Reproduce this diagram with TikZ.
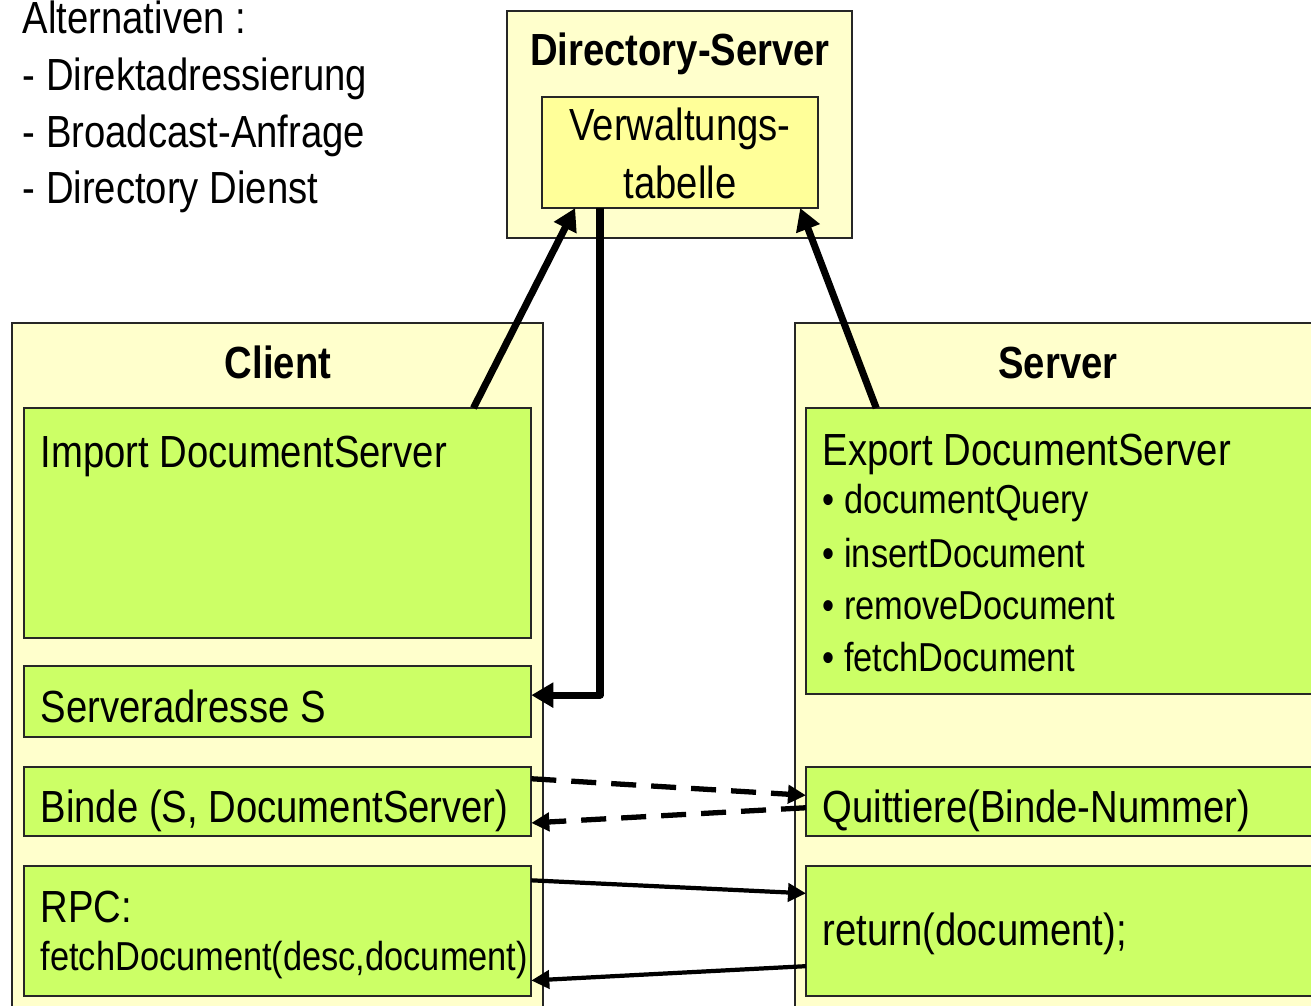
\documentclass[tikz,border=0pt]{standalone}
\usepackage{fontspec}
\setmainfont[FakeStretch=0.85]{Liberation Sans}
\usetikzlibrary{arrows.meta,calc,positioning}
\definecolor{paleyellow}{HTML}{FFFFCC}
\definecolor{tableyellow}{HTML}{FFFF99}
\definecolor{partgreen}{HTML}{CCFF66}
\tikzset{
  frame/.style={draw=black!85, line width=0.6pt, fill=paleyellow, anchor=north west, inner sep=0pt, outer sep=0pt},
  part/.style={frame, fill=partgreen},
  txt/.style={anchor=base west, inner sep=0pt, font=\fontsize{12.8}{15}\selectfont},
  small/.style={txt, font=\fontsize{11.5}{14}\selectfont},
  title/.style={anchor=base, inner sep=0pt, font=\fontsize{12.8}{15}\selectfont\bfseries},
  bigarrow/.style={line width=2pt, -{Triangle[length=2.2mm,width=2.4mm]}},
  msg/.style={line width=1.2pt, -{Triangle[length=1.8mm,width=1.8mm]}},
}
\begin{document}
\begin{tikzpicture}[x=0.01cm,y=-0.01cm]
  \clip (0,0) rectangle (1311,1005);
  % alternatives
  \node[txt] (alt)  at (22,33)  {Alternativen :};
  \node[txt] (alt1) at (22,90)  {- Direktadressierung};
  \node[txt] (alt2) at (22,147) {- Broadcast-Anfrage};
  \node[txt] (alt3) at (22,203) {- Directory Dienst};
  % directory server
  \node[frame, minimum width=3.45cm, minimum height=2.27cm] (dir) at (507,11) {};
  \node[title] (dirtitle) at (680,65) {Directory-Server};
  \node[frame, fill=tableyellow, minimum width=2.76cm, minimum height=1.11cm] (tab) at (542,97) {};
  \node[txt, anchor=base] (tab1) at (680,140) {Verwaltungs-};
  \node[txt, anchor=base] (tab2) at (680,198) {tabelle};
  % client
  \node[frame, minimum width=5.31cm, minimum height=7cm] (client) at (12,323) {};
  \node[title] (clienttitle) at (278,378) {Client};
  \node[part, minimum width=5.07cm, minimum height=2.30cm] (import) at (24,408) {};
  \node[txt] (importtxt) at (40,467) {Import DocumentServer};
  \node[part, minimum width=5.07cm, minimum height=0.71cm] (addr) at (24,666) {};
  \node[txt] (addrtxt) at (40,722) {Serveradresse S};
  \node[part, minimum width=5.07cm, minimum height=0.69cm] (bind) at (24,767) {};
  \node[txt] (bindtxt) at (40,822) {Binde (S, DocumentServer)};
  \node[part, minimum width=5.07cm, minimum height=1.30cm] (rpc) at (24,866) {};
  \node[txt] (rpctxt) at (40,922) {RPC:};
  \node[small] (fetchtxt) at (40,970) {fetchDocument(desc,document)};
  % server
  \node[frame, minimum width=5.4cm, minimum height=7cm] (server) at (795,323) {};
  \node[title] (servertitle) at (1058,378) {Server};
  \node[part, minimum width=5.2cm, minimum height=2.86cm] (export) at (806,408) {};
  \node[txt] (exporttxt) at (822,465) {Export DocumentServer};
  \foreach \op/\yy [count=\i] in {documentQuery/513, insertDocument/567, removeDocument/619, fetchDocument/671}
    \node[small] (op\i) at (822,\yy) {\textbullet\ \op};
  \node[part, minimum width=5.2cm, minimum height=0.69cm] (quit) at (806,767) {};
  \node[txt] (quittxt) at (822,822) {Quittiere(Binde-Nummer)};
  \node[part, minimum width=5.2cm, minimum height=1.30cm] (ret) at (806,866) {};
  \node[txt] (rettxt) at (822,945) {return(document);};
  % lookup
  \draw[bigarrow] ($(import.north west)!0.886!(import.north east)$) -- ($(tab.south west)!0.12!(tab.south east)$);
  \draw[bigarrow] ($(export.north west)!0.135!(export.north east)$) -- ($(tab.south west)!0.935!(tab.south east)$);
  \draw[bigarrow, line join=round] ($(tab.south west)!0.21!(tab.south east)$) |- ($(addr.north east)!0.41!(addr.south east)$);
  % binding
  \draw[msg, line width=1.5pt, dash pattern=on 2.5mm off 1.5mm] ($(bind.north east)!0.17!(bind.south east)$) -- ($(quit.north west)!0.41!(quit.south west)$);
  \draw[msg, line width=1.5pt, dash pattern=on 2.5mm off 1.5mm] ($(quit.north west)!0.59!(quit.south west)$) -- ($(bind.north east)!0.81!(bind.south east)$);
  % call
  \draw[msg] ($(rpc.north east)!0.11!(rpc.south east)$) -- ($(ret.north west)!0.21!(ret.south west)$);
  \draw[msg] ($(ret.north west)!0.77!(ret.south west)$) -- ($(rpc.north east)!0.88!(rpc.south east)$);
\end{tikzpicture}
\end{document}
